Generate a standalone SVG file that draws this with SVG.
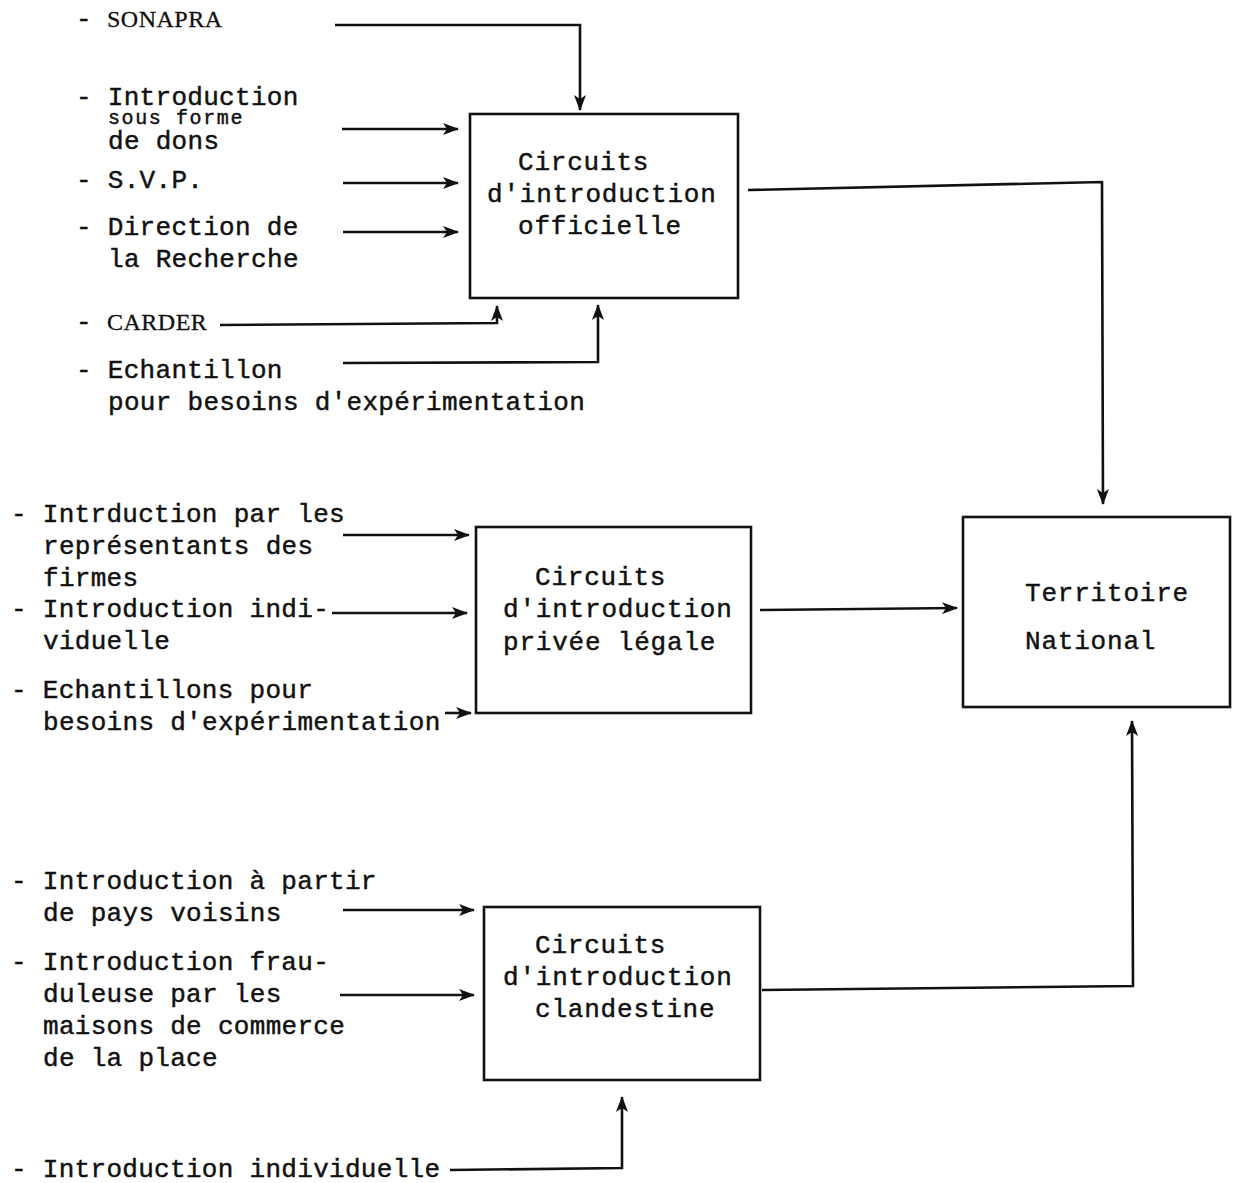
<svg xmlns="http://www.w3.org/2000/svg" width="1236" height="1183" viewBox="0 0 1236 1183">
<defs>
<marker id="ah" viewBox="0 0 16 12" refX="15" refY="6" markerWidth="16" markerHeight="12" markerUnits="userSpaceOnUse" orient="auto">
<path d="M0,0 L16,6 L0,12 L4,6 Z" fill="#111"/>
</marker>
</defs>
<style>
text{font-family:"Liberation Mono","Courier New",monospace;font-size:26px;fill:#111;stroke:#111;stroke-width:0.45;letter-spacing:0.3px}
.rm{font-family:"Liberation Serif","Times New Roman",serif;font-size:24px;letter-spacing:0.5px;stroke-width:0.3}
.sm{font-size:20px;letter-spacing:1.6px}
.bt{letter-spacing:0.8px}
.box{fill:none;stroke:#111;stroke-width:2.6}
.c{fill:none;stroke:#111;stroke-width:2.6}
</style>
<rect width="1236" height="1183" fill="#fff"/>

<g id="connectors">
<polyline class="c" points="335,25 580,25 580,110" marker-end="url(#ah)"/>
<line class="c" x1="342" y1="129" x2="458" y2="129" marker-end="url(#ah)"/>
<line class="c" x1="343" y1="183" x2="458" y2="183" marker-end="url(#ah)"/>
<line class="c" x1="343" y1="232" x2="458" y2="232" marker-end="url(#ah)"/>
<polyline class="c" points="220,325 497,323 497,306" marker-end="url(#ah)"/>
<polyline class="c" points="343,363 598,362 598,305" marker-end="url(#ah)"/>
<polyline class="c" points="748,190 1102,182 1103,504" marker-end="url(#ah)"/>
<line class="c" x1="343" y1="535" x2="469" y2="535" marker-end="url(#ah)"/>
<line class="c" x1="332" y1="613" x2="467" y2="613" marker-end="url(#ah)"/>
<line class="c" x1="445" y1="713" x2="471" y2="713" marker-end="url(#ah)"/>
<line class="c" x1="760" y1="610" x2="957" y2="608" marker-end="url(#ah)"/>
<line class="c" x1="343" y1="910" x2="474" y2="910" marker-end="url(#ah)"/>
<line class="c" x1="340" y1="995" x2="474" y2="995" marker-end="url(#ah)"/>
<polyline class="c" points="450,1170 622,1168 622,1097" marker-end="url(#ah)"/>
<polyline class="c" points="762,990 1133,986 1132,721" marker-end="url(#ah)"/>
</g>

<g id="officielle">
<rect class="box" x="470" y="114" width="268" height="184"/>
<text class="bt" x="518" y="170">Circuits</text>
<text class="bt" x="487" y="202">d'introduction</text>
<text class="bt" x="518" y="234">officielle</text>
</g>

<g id="privee">
<rect class="box" x="476" y="527" width="275" height="186"/>
<text class="bt" x="535" y="585">Circuits</text>
<text class="bt" x="503" y="617">d'introduction</text>
<text class="bt" x="503" y="650">privée légale</text>
</g>

<g id="clandestine">
<rect class="box" x="484" y="907" width="276" height="173"/>
<text class="bt" x="535" y="953">Circuits</text>
<text class="bt" x="503" y="985">d'introduction</text>
<text class="bt" x="535" y="1017">clandestine</text>
</g>

<g id="territoire">
<rect class="box" x="963" y="517" width="267" height="190"/>
<text class="bt" x="1025" y="601">Territoire</text>
<text class="bt" x="1025" y="649">National</text>
</g>

<g id="labels-officiel">
<text x="76" y="27">-</text><text class="rm" x="107" y="27">SONAPRA</text>
<text x="76" y="105">- Introduction</text>
<text class="sm" x="108" y="124">sous forme</text>
<text x="108" y="149">de dons</text>
<text x="76" y="188">- S.V.P.</text>
<text x="76" y="235">- Direction de</text>
<text x="108" y="267">la Recherche</text>
<text x="76" y="330">-</text><text class="rm" x="107" y="330">CARDER</text>
<text x="76" y="378">- Echantillon</text>
<text x="108" y="410">pour besoins d'expérimentation</text>
</g>

<g id="labels-privee">
<text x="11" y="522">- Intrduction par les</text>
<text x="43" y="554">représentants des</text>
<text x="43" y="586">firmes</text>
<text x="11" y="617">- Introduction indi-</text>
<text x="43" y="649">viduelle</text>
<text x="11" y="698">- Echantillons pour</text>
<text x="43" y="730">besoins d'expérimentation</text>
</g>

<g id="labels-clandestine">
<text x="11" y="889">- Introduction à partir</text>
<text x="43" y="921">de pays voisins</text>
<text x="11" y="970">- Introduction frau-</text>
<text x="43" y="1002">duleuse par les</text>
<text x="43" y="1034">maisons de commerce</text>
<text x="43" y="1066">de la place</text>
<text x="11" y="1177">- Introduction individuelle</text>
</g>
</svg>
